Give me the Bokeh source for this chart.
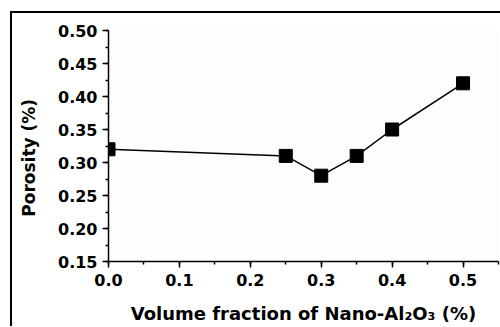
from bokeh.plotting import figure
from bokeh.models import SingleIntervalTicker, NumeralTickFormatter, Range1d
from bokeh.embed import file_html
from bokeh.resources import INLINE

volume_fraction = [0.0, 0.25, 0.30, 0.35, 0.40, 0.50]
porosity = [0.32, 0.31, 0.28, 0.31, 0.35, 0.42]

x_label = "Volume fraction of Nano-Al\u2082O\u2083 (%)"
y_label = "Porosity (%)" + "\u00a0" * 4

FONT = "DejaVu Sans"

p = figure(width=488, height=313, output_backend="svg", toolbar_location=None,
           x_range=Range1d(0, 0.55), y_range=Range1d(0.15, 0.50),
           min_border_left=96, min_border_top=17, min_border_right=4, min_border_bottom=67)
p.margin = (11, 0, 0, 10)
p.styles = {"border-left": "2px solid black", "border-top": "2px solid black",
            "border-right": "0px none white", "border-bottom": "0px none white",
            "box-sizing": "content-box"}
p.outline_line_color = None
p.xgrid.visible = False
p.ygrid.visible = False
p.background_fill_color = "#fdfdfd"
p.border_fill_color = "white"

p.line(volume_fraction, porosity, line_color="black", line_width=1.5)
p.scatter(volume_fraction, porosity, marker="square", size=13, fill_color="black", line_color="black")

p.xaxis.ticker = SingleIntervalTicker(interval=0.1, num_minor_ticks=2)
p.yaxis.ticker = SingleIntervalTicker(interval=0.05, num_minor_ticks=2)
p.xaxis.formatter = NumeralTickFormatter(format="0.0")
p.yaxis.formatter = NumeralTickFormatter(format="0.00")

for ax in (p.xaxis, p.yaxis):
    ax.axis_line_width = 1.5
    ax.axis_line_color = "black"
    ax.major_tick_line_width = 1.5
    ax.minor_tick_line_width = 1.5
    ax.major_tick_line_color = "black"
    ax.minor_tick_line_color = "black"
    ax.major_tick_out = 6
    ax.major_tick_in = 0
    ax.minor_tick_out = 3
    ax.minor_tick_in = 0
    ax.major_label_text_font = FONT
    ax.major_label_text_font_style = "bold"
    ax.major_label_text_font_size = "16px"
    ax.major_label_text_color = "black"

p.xaxis.major_label_standoff = 6
p.yaxis.major_label_standoff = 5

for ax, lab in ((p.xaxis, x_label), (p.yaxis, y_label)):
    ax.axis_label = lab
    ax.axis_label_text_font = FONT
    ax.axis_label_text_font_style = "bold"
    ax.axis_label_text_color = "black"
p.xaxis.axis_label_text_font_size = "18px"
p.yaxis.axis_label_text_font_size = "17px"
p.xaxis.axis_label_standoff = 14
p.yaxis.axis_label_standoff = 16

open("out.html", "w").write(file_html(p, INLINE))
